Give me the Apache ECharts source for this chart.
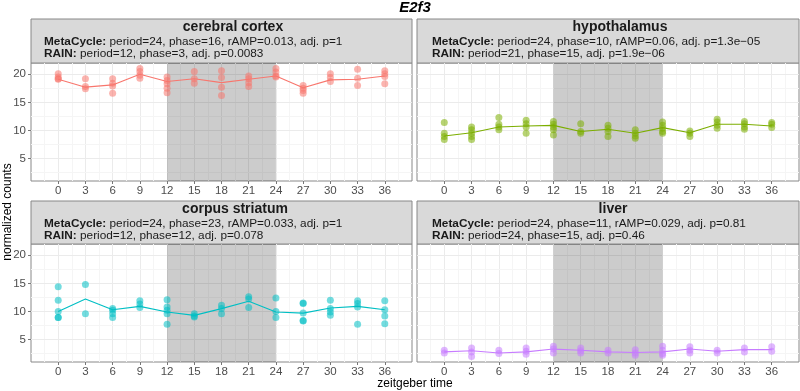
<!DOCTYPE html>
<html lang="en">
<head>
<meta charset="UTF-8">
<title>E2f3</title>
<script src="https://cdn.jsdelivr.net/npm/echarts@6/dist/echarts.min.js"></script>
<style>
  html, body { margin: 0; padding: 0; background: #fff; }
  #container { width: 800px; height: 391px; }
</style>
</head>
<body>
<div id="container"></div>
<script>
  // zeitgeber time points and axis ticks
  var times = [0, 3, 6, 9, 12, 15, 18, 21, 24, 27, 30, 33, 36];
  var xTicks = [0, 3, 6, 9, 12, 15, 18, 21, 24, 27, 30, 33, 36];
  var yTicks = [5, 10, 15, 20];
  var yMinorTicks = [2.5, 7.5, 12.5, 17.5];
  var darkPhase = [12, 24];

  var tissues = ['cerebral cortex', 'hypothalamus', 'corpus striatum', 'liver'];
  var colors = ['#F8766D', '#7CAE00', '#00BFC4', '#C77CFF'];
  var metaCycleText = [
    'period=24, phase=16, rAMP=0.013, adj. p=1',
    'period=24, phase=10, rAMP=0.06, adj. p=1.3e\u221205',
    'period=24, phase=23, rAMP=0.033, adj. p=1',
    'period=24, phase=11, rAMP=0.029, adj. p=0.81'
  ];
  var rainText = [
    'period=12, phase=3, adj. p=0.0083',
    'period=21, phase=15, adj. p=1.9e\u221206',
    'period=12, phase=12, adj. p=0.078',
    'period=24, phase=15, adj. p=0.46'
  ];

  // replicate values per time point
  var cortexPoints = [
    [20.1, 19.5, 19.2, 19.1], [19.2, 17.8, 17.4], [19.2, 18.4, 17.9, 16.6], [21.0, 20.5, 19.8, 19.3],
    [19.5, 18.9, 18.3, 17.5, 16.7], [20.5, 19.2, 18.4], [20.6, 19.4, 17.7, 16.2], [19.7, 19.2, 18.5, 17.8],
    [21.0, 20.4, 19.7, 19.5], [18.0, 17.5, 17.1, 16.6], [20.1, 19.4, 18.7], [20.9, 19.3, 18.0],
    [20.6, 20.1, 19.6, 18.3]
  ];
  var cortexMean = [19.1, 17.7, 18.1, 20.0, 18.7, 19.2, 18.5, 19.1, 19.7, 17.6, 19.0, 19.1, 19.7];

  var hypoPoints = [
    [11.4, 9.5, 8.9, 8.4], [10.6, 10.1, 9.5, 8.9, 8.4], [12.3, 11.1, 10.6, 10.1], [11.8, 11.2, 10.6, 9.5],
    [11.6, 11.1, 10.6, 10.1, 9.2], [11.2, 9.8, 9.5], [10.9, 10.4, 9.8, 8.9], [10.1, 9.5, 9.0, 8.6],
    [11.5, 10.9, 10.4, 9.8, 9.5], [9.9, 9.5, 8.9], [12.0, 11.5, 10.9, 10.4], [11.6, 11.2, 10.6, 10.2],
    [11.4, 11.1, 10.5]
  ];
  var hypoMean = [9.0, 9.6, 10.6, 10.8, 10.9, 9.8, 10.2, 9.5, 10.5, 9.6, 11.1, 11.1, 10.8];

  var striatumPoints = [
    [14.4, 12.0, 10.0, 8.9, 8.9], [14.8, 9.6], [10.5, 10.2, 9.6, 8.9], [11.9, 11.3, 10.7],
    [12.1, 10.8, 10.2, 9.6, 7.7], [9.6, 9.2, 9.0], [11.1, 10.5, 9.6], [12.6, 12.2, 10.7],
    [12.4, 10.0, 8.9], [11.5, 11.4, 9.7, 8.4, 8.3], [12.0, 10.5, 9.9, 9.3], [11.9, 11.4, 10.8, 7.7],
    [11.9, 10.3, 9.2, 7.8]
  ];
  var striatumMean = [10.0, 12.2, 10.3, 10.9, 9.9, 9.3, 10.5, 11.8, 9.9, 9.7, 10.6, 10.9, 10.3];

  var liverPoints = [
    [3.1, 2.6], [3.5, 2.8, 2.0], [3.1, 2.5], [3.5, 2.9, 2.4], [3.8, 3.3, 2.6], [3.5, 3.0, 2.6],
    [3.1, 2.6], [3.2, 2.6, 2.2], [3.8, 3.1, 2.5, 2.2], [3.7, 3.1, 2.6], [3.1, 2.6], [3.5, 2.8],
    [3.7, 2.9]
  ];
  var liverMean = [2.8, 3.0, 2.6, 2.8, 3.3, 3.1, 2.8, 2.7, 2.8, 3.3, 2.9, 3.2, 3.2];

  var allPoints = [cortexPoints, hypoPoints, striatumPoints, liverPoints];
  var allMeans = [cortexMean, hypoMean, striatumMean, liverMean];

  var FONT = 'Liberation Sans, Arial, Helvetica, sans-serif';

  var grids = [
    { left: 31, top: 63, width: 381, height: 118 },
    { left: 417, top: 63, width: 382, height: 118 },
    { left: 31, top: 244, width: 381, height: 118 },
    { left: 417, top: 244, width: 382, height: 118 }
  ];
  // strip boxes and text anchors
  var strips = [
    { x: 31, y: 19, w: 381, h: 44, titleX: 233, textX: 44 },
    { x: 417, y: 19, w: 382, h: 44, titleX: 620, textX: 432 },
    { x: 31, y: 201, w: 381, h: 43, titleX: 235, textX: 44 },
    { x: 417, y: 201, w: 382, h: 43, titleX: 613, textX: 432 }
  ];

  var xAxes = [], yAxes = [], series = [], graphics = [];

  grids.forEach(function (g, i) {
    g.show = true;
    g.borderColor = '#888';
    g.borderWidth = 1;
    g.containLabel = false;

    xAxes.push({
      type: 'value', gridIndex: i, min: -3, max: 39, interval: 3, position: 'bottom',
      axisLine: { show: false, onZero: false },
      axisTick: { show: true, length: 3, lineStyle: { color: '#777' }, customValues: xTicks },
      axisLabel: { show: true, margin: 4, color: '#4D4D4D', fontSize: 11.5, fontFamily: FONT, customValues: xTicks },
      splitLine: { show: true, lineStyle: { color: '#EBEBEB', width: 1 } },
      minorTick: { show: false, splitNumber: 2 },
      minorSplitLine: { show: true, lineStyle: { color: '#F5F5F5', width: 1 } }
    });
    var left = (i % 2 === 0);
    yAxes.push({
      type: 'value', gridIndex: i, min: 1, max: 22, position: 'left',
      axisLine: { show: false, onZero: false },
      axisTick: { show: left, length: 3, lineStyle: { color: '#777' }, customValues: yTicks },
      axisLabel: { show: left, margin: 5, color: '#4D4D4D', fontSize: 11.5, fontFamily: FONT, customValues: yTicks },
      splitLine: { show: false }
    });

    // horizontal grid lines (kept under everything else)
    var gl = yMinorTicks.map(function (v) {
      return { yAxis: v, lineStyle: { color: '#F5F5F5', width: 1, type: 'solid' } };
    }).concat(yTicks.map(function (v) {
      return { yAxis: v, lineStyle: { color: '#EBEBEB', width: 1, type: 'solid' } };
    }));
    series.push({
      type: 'line', xAxisIndex: i, yAxisIndex: i, data: [], z: 0, silent: true,
      markLine: { z: 0, silent: true, symbol: ['none', 'none'], label: { show: false }, data: gl, animation: false }
    });
    // dark phase shading
    series.push({
      type: 'line', xAxisIndex: i, yAxisIndex: i, data: [], z: 1, silent: true,
      markArea: {
        z: 1, silent: true, itemStyle: { color: 'rgba(0,0,0,0.2)' },
        data: [[{ xAxis: darkPhase[0] }, { xAxis: darkPhase[1] }]]
      }
    });

    var pts = [];
    allPoints[i].forEach(function (reps, k) {
      reps.forEach(function (v) { pts.push([times[k], v]); });
    });
    series.push({
      type: 'scatter', xAxisIndex: i, yAxisIndex: i, z: 3,
      symbolSize: 7, data: pts,
      itemStyle: { color: colors[i], opacity: 0.55 }
    });
    series.push({
      type: 'line', xAxisIndex: i, yAxisIndex: i, z: 4,
      showSymbol: false, symbol: 'none',
      data: times.map(function (t, k) { return [t, allMeans[i][k]]; }),
      lineStyle: { color: colors[i], width: 1.1 }
    });

    var s = strips[i];
    graphics.push({
      type: 'rect', shape: { x: s.x, y: s.y, width: s.w, height: s.h },
      style: { fill: '#D9D9D9', stroke: '#888', lineWidth: 1 }
    });
    graphics.push({
      type: 'text',
      style: {
        text: tissues[i], x: s.titleX, y: s.y + 8.5, align: 'center', verticalAlign: 'middle',
        fill: '#1A1A1A', fontSize: 14, fontWeight: 'bold', fontFamily: FONT
      }
    });
    graphics.push({
      type: 'text',
      style: {
        text: '{b|MetaCycle:} ' + metaCycleText[i], x: s.textX, y: s.y + 23, align: 'left', verticalAlign: 'middle',
        fill: '#1A1A1A', fontSize: 11.8, fontFamily: FONT,
        rich: { b: { fontWeight: 'bold', fontSize: 11.8, fontFamily: FONT, fill: '#1A1A1A' } }
      }
    });
    graphics.push({
      type: 'text',
      style: {
        text: '{b|RAIN:} ' + rainText[i], x: s.textX, y: s.y + 34.5, align: 'left', verticalAlign: 'middle',
        fill: '#1A1A1A', fontSize: 11.8, fontFamily: FONT,
        rich: { b: { fontWeight: 'bold', fontSize: 11.8, fontFamily: FONT, fill: '#1A1A1A' } }
      }
    });
  });

  graphics.push({
    type: 'text',
    style: {
      text: 'E2f3', x: 415, y: 8, align: 'center', verticalAlign: 'middle',
      fill: '#000', fontSize: 15, fontWeight: 'bold', fontStyle: 'italic', fontFamily: FONT
    }
  });
  graphics.push({
    type: 'text',
    style: {
      text: 'zeitgeber time', x: 415, y: 384, align: 'center', verticalAlign: 'middle',
      fill: '#000', fontSize: 12, fontFamily: FONT
    }
  });
  graphics.push({
    type: 'text', x: 8, y: 212, rotation: Math.PI / 2,
    style: {
      text: 'normalized counts', x: 0, y: 0, align: 'center', verticalAlign: 'middle',
      fill: '#000', fontSize: 12, fontFamily: FONT
    }
  });

  var myChart = echarts.init(document.getElementById('container'), null, { renderer: 'canvas' });
  var option = {
    animation: false,
    backgroundColor: '#fff',
    grid: grids,
    xAxis: xAxes,
    yAxis: yAxes,
    series: series,
    graphic: graphics
  };
  myChart.setOption(option);
  window.addEventListener('resize', myChart.resize);
</script>
</body>
</html>
